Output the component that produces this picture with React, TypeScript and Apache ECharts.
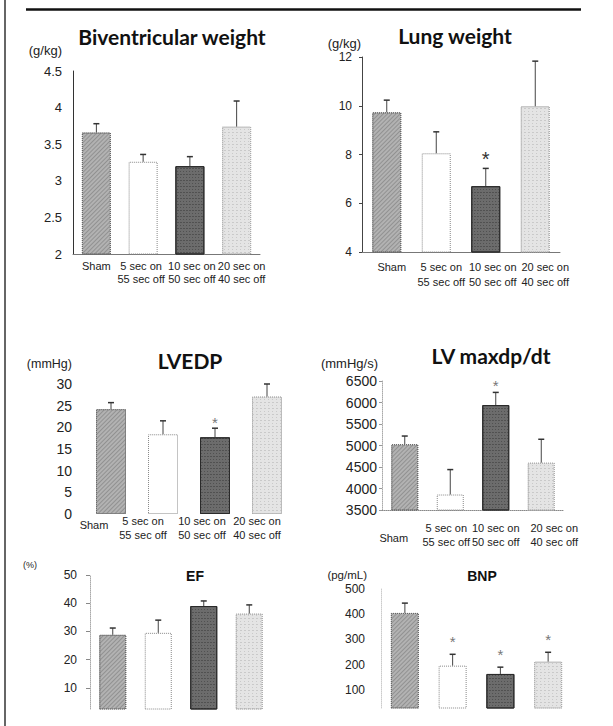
import React, { useEffect, useRef } from "react";
import * as echarts from "echarts";

// ---------- data ----------
const categories = ["Sham", "5 sec on\n55 sec off", "10 sec on\n50 sec off", "20 sec on\n40 sec off"];

const bivMean = [3.66, 3.26, 3.2, 3.74];
const bivSE = [0.12, 0.1, 0.13, 0.35];
const bivSig = [0, 0, 0, 0];

const lungMean = [9.73, 8.05, 6.7, 9.98];
const lungSE = [0.5, 0.88, 0.73, 1.85];
const lungSig = [0, 0, 1, 0];

const lvedpMean = [24.2, 18.4, 17.7, 27.1];
const lvedpSE = [1.5, 3.1, 2.1, 2.9];
const lvedpSig = [0, 0, 1, 0];

const maxdpMean = [5030, 3860, 5940, 4600];
const maxdpSE = [190, 580, 295, 545];
const maxdpSig = [0, 0, 1, 0];

const efMean = [28.8, 29.5, 39, 36.3];
const efSE = [2.4, 4.5, 1.8, 3.1];
const efSig = [0, 0, 0, 0];

const bnpMean = [405, 196, 163, 212];
const bnpSE = [39, 45, 27, 37];
const bnpSig = [0, 1, 1, 1];

const efTicks = [10, 20, 30, 40, 50];
const bnpTicks = [100, 200, 300, 400, 500];

// ---------- styles / layout ----------
const FONT = "'Liberation Sans', Arial, sans-serif";
const TITLE_FONT = "Lato";

const barStyles = [
  {
    color: "#b2b2b2",
    borderColor: "#666",
    borderWidth: 1,
    borderType: "dotted",
    decal: {
      symbol: "rect",
      dashArrayX: [1, 0],
      dashArrayY: [1, 2],
      rotation: -Math.PI / 4,
      color: "rgba(70,70,70,0.3)",
    },
  },
  { color: "#ffffff", borderColor: "#888", borderWidth: 1, borderType: "dotted" },
  {
    color: "#6c6c6c",
    borderColor: "#2a2a2a",
    borderWidth: 1,
    decal: {
      symbol: "rect",
      symbolSize: 1,
      dashArrayX: [[1, 2], [2, 1]],
      dashArrayY: [1, 2],
      color: "rgba(20,20,20,0.3)",
    },
  },
  {
    color: "#e4e4e4",
    borderColor: "#aaa",
    borderWidth: 1,
    borderType: "dotted",
    decal: {
      symbol: "rect",
      symbolSize: 1,
      dashArrayX: [[1, 3], [2, 2]],
      dashArrayY: [1, 2],
      color: "rgba(150,150,150,0.35)",
    },
  },
];

type Panel = {
  title: string;
  unit: string;
  mean: number[];
  se: number[];
  sig: number[];
  grid: { left: number; top: number; width: number; height: number };
  barWidth: number;
  y: any;
  yLabelSize: number;
  yLabelMargin: number;
  unitGap: number;
  unitPad: number;
  unitSize: number;
  yLine: any;
  yTick: any;
  xLine: any;
  xLabel: any;
  labelShift: number[];
  labelDrop: number;
  titleX: number;
  titleY: number;
  titleFont: string;
  titleSize: number;
  starSize: number;
  starColor: string;
  starGap: number;
};

const panels: Panel[] = [
  {
    title: "Biventricular weight",
    unit: "(g/kg)",
    mean: bivMean,
    se: bivSE,
    sig: bivSig,
    grid: { left: 73, top: 71, width: 187, height: 183 },
    barWidth: 29,
    y: { min: 2, max: 4.5, interval: 0.5 },
    yLabelSize: 13,
    yLabelMargin: 11,
    unitGap: 21,
    unitPad: 11,
    unitSize: 13,
    yLine: { show: true, lineStyle: { color: "#333", width: 1 } },
    yTick: { show: false },
    xLine: { show: true, lineStyle: { color: "#777", width: 1 } },
    xLabel: { show: true, margin: 5, lineHeight: 13 },
    labelShift: [0, -2, 2, 5],
    labelDrop: 0,
    titleX: 172,
    titleY: 39,
    titleFont: TITLE_FONT,
    titleSize: 21,
    starSize: 18,
    starColor: "#333",
    starGap: 12,
  },
  {
    title: "Lung weight",
    unit: "(g/kg)",
    mean: lungMean,
    se: lungSE,
    sig: lungSig,
    grid: { left: 362, top: 57, width: 198, height: 195 },
    barWidth: 29,
    y: { min: 4, max: 12, interval: 2 },
    yLabelSize: 12,
    yLabelMargin: 10,
    unitGap: 14,
    unitPad: 1,
    unitSize: 13,
    yLine: { show: true, lineStyle: { color: "#444", width: 1 } },
    yTick: { show: true, length: 3, lineStyle: { color: "#444" } },
    xLine: { show: true, lineStyle: { color: "#777", width: 1 } },
    xLabel: { show: true, margin: 7, lineHeight: 15 },
    labelShift: [5, 5, 7, 10],
    labelDrop: 0,
    titleX: 455,
    titleY: 38,
    titleFont: TITLE_FONT,
    titleSize: 21,
    starSize: 20,
    starColor: "#333",
    starGap: 14,
  },
  {
    title: "LVEDP",
    unit: "(mmHg)",
    mean: lvedpMean,
    se: lvedpSE,
    sig: lvedpSig,
    grid: { left: 85, top: 384, width: 208, height: 130 },
    barWidth: 30,
    y: { min: 0, max: 30, interval: 5 },
    yLabelSize: 14,
    yLabelMargin: 13,
    unitGap: 20,
    unitPad: 13,
    unitSize: 12.5,
    yLine: { show: false },
    yTick: { show: false },
    xLine: { show: false },
    xLabel: { show: true, margin: 0, lineHeight: 14 },
    labelShift: [-17, -20, -13, -10],
    labelDrop: 4,
    titleX: 190,
    titleY: 363,
    titleFont: TITLE_FONT,
    titleSize: 21,
    starSize: 15,
    starColor: "#777",
    starGap: 9,
  },
  {
    title: "LV maxdp/dt",
    unit: "(mmHg/s)",
    mean: maxdpMean,
    se: maxdpSE,
    sig: maxdpSig,
    grid: { left: 382, top: 381, width: 182, height: 129 },
    barWidth: 27,
    y: { min: 3500, max: 6500, interval: 500 },
    yLabelSize: 14,
    yLabelMargin: 5,
    unitGap: 18,
    unitPad: 4,
    unitSize: 13,
    yLine: { show: true, lineStyle: { color: "#aaa", width: 1, type: "dotted" } },
    yTick: { show: true, length: 3, lineStyle: { color: "#999" } },
    xLine: { show: true, lineStyle: { color: "#888", width: 1, type: "dotted" } },
    xLabel: { show: true, margin: 11, lineHeight: 14 },
    labelShift: [-11, -4, 0, 13],
    labelDrop: 10,
    titleX: 491,
    titleY: 358,
    titleFont: TITLE_FONT,
    titleSize: 21,
    starSize: 15,
    starColor: "#777",
    starGap: 10,
  },
  {
    title: "EF",
    unit: "(%)",
    mean: efMean,
    se: efSE,
    sig: efSig,
    grid: { left: 90, top: 575, width: 182, height: 134 },
    barWidth: 27,
    y: { min: 2.5, max: 50, ticks: efTicks },
    yLabelSize: 12,
    yLabelMargin: 13,
    unitGap: 10,
    unitPad: 53,
    unitSize: 9,
    yLine: { show: true, lineStyle: { color: "#aaa", width: 1, type: "dotted" } },
    yTick: { show: true, length: 4, lineStyle: { color: "#888" } },
    xLine: { show: false },
    xLabel: { show: false },
    labelShift: [0, 0, 0, 0],
    labelDrop: 0,
    titleX: 195,
    titleY: 578,
    titleFont: FONT,
    titleSize: 14,
    starSize: 15,
    starColor: "#777",
    starGap: 12,
  },
  {
    title: "BNP",
    unit: "(pg/mL)",
    mean: bnpMean,
    se: bnpSE,
    sig: bnpSig,
    grid: { left: 381, top: 589, width: 191, height: 119 },
    barWidth: 28,
    y: { min: 28, max: 500, ticks: bnpTicks },
    yLabelSize: 12,
    yLabelMargin: 16,
    unitGap: 14,
    unitPad: 14,
    unitSize: 11.5,
    yLine: { show: true, lineStyle: { color: "#ccc", width: 1, type: "dotted" } },
    yTick: { show: false },
    xLine: { show: false },
    xLabel: { show: false },
    labelShift: [0, 0, 0, 0],
    labelDrop: 0,
    titleX: 482,
    titleY: 578,
    titleFont: FONT,
    titleSize: 14,
    starSize: 15,
    starColor: "#777",
    starGap: 16,
  },
];

function buildOption() {
  const grid: any[] = [];
  const xAxis: any[] = [];
  const yAxis: any[] = [];
  const series: any[] = [];
  const title: any[] = [];

  panels.forEach((p, k) => {
    grid.push({ ...p.grid, containLabel: false });

    xAxis.push({
      type: "category",
      gridIndex: k,
      data: categories.map((c, i) => {
        const s = p.labelShift[i];
        const drop = i === 0 ? p.labelDrop : 0;
        return {
          value: c,
          textStyle: {
            padding: [drop, s < 0 ? -2 * s : 0, 0, s > 0 ? 2 * s : 0],
          },
        };
      }),
      axisLine: p.xLine,
      axisTick: { show: false },
      axisLabel: {
        show: p.xLabel.show,
        interval: 0,
        margin: p.xLabel.margin || 0,
        lineHeight: p.xLabel.lineHeight,
        fontFamily: FONT,
        fontSize: 11,
        color: "#222",
        hideOverlap: false,
      },
      splitLine: { show: false },
    });

    const yBase: any = {
      type: "value",
      gridIndex: k,
      min: p.y.min,
      max: p.y.max,
      name: p.unit,
      nameLocation: "end",
      nameGap: p.unitGap,
      nameTextStyle: {
        fontFamily: FONT,
        fontSize: p.unitSize,
        color: "#222",
        align: "right",
        verticalAlign: "middle",
        padding: [0, p.unitPad, 0, 0],
      },
      axisLine: p.yLine,
      axisTick: p.y.ticks
        ? { ...p.yTick, customValues: p.y.ticks }
        : p.yTick,
      axisLabel: {
        fontFamily: FONT,
        fontSize: p.yLabelSize,
        color: "#222",
        margin: p.yLabelMargin,
        formatter: (v: number) => String(v),
        ...(p.y.ticks ? { customValues: p.y.ticks } : {}),
      },
      splitLine: { show: false },
    };
    if (p.y.interval) yBase.interval = p.y.interval;
    yAxis.push(yBase);

    series.push({
      type: "bar",
      xAxisIndex: k,
      yAxisIndex: k,
      barWidth: p.barWidth,
      z: 2,
      data: p.mean.map((v, i) => ({ value: v, itemStyle: barStyles[i] })),
    });

    const starSize = p.starSize;
    const starColor = p.starColor;
    const starGap = p.starGap;
    series.push({
      type: "custom",
      xAxisIndex: k,
      yAxisIndex: k,
      z: 3,
      encode: { x: 0, y: 1 },
      data: p.mean.map((v, i) => [i, v, p.se[i], p.sig[i]]),
      renderItem: (params: any, api: any) => {
        const i = api.value(0);
        const m = api.value(1);
        const e = api.value(2);
        const sig = api.value(3);
        const b = api.coord([i, m]);
        const t = api.coord([i, m + e]);
        const children: any[] = [
          {
            type: "line",
            shape: { x1: b[0], y1: b[1], x2: t[0], y2: t[1] },
            style: { stroke: "#444", lineWidth: 1 },
          },
          {
            type: "line",
            shape: { x1: t[0] - 3, y1: t[1], x2: t[0] + 3, y2: t[1] },
            style: { stroke: "#333", lineWidth: 1.5 },
          },
        ];
        if (sig) {
          children.push({
            type: "text",
            x: t[0],
            y: t[1] - starGap + starSize * 0.22,
            style: {
              text: "*",
              fontFamily: FONT,
              fontSize: starSize,
              fill: starColor,
              align: "center",
              verticalAlign: "middle",
            },
          });
        }
        return { type: "group", children };
      },
    });

    title.push({
      text: p.title,
      left: p.titleX,
      top: p.titleY - p.titleSize * 0.62,
      textAlign: "center",
      padding: 0,
      textStyle: {
        fontFamily: p.titleFont,
        fontWeight: "bold",
        fontSize: p.titleSize,
        color: "#111",
      },
    });
  });

  return {
    animation: false,
    backgroundColor: "#ffffff",
    title,
    grid,
    xAxis,
    yAxis,
    series,
    graphic: [
      {
        type: "line",
        shape: { x1: 5, y1: 0, x2: 5, y2: 726 },
        style: { stroke: "#333", lineWidth: 1.5 },
      },
      {
        type: "line",
        shape: { x1: 26, y1: 9.5, x2: 581, y2: 9.5 },
        style: { stroke: "#111", lineWidth: 2.5 },
      },
    ],
  };
}

export default function App() {
  const ref = useRef<HTMLDivElement>(null);
  useEffect(() => {
    if (!ref.current) return;
    const chart = echarts.init(ref.current, null, { renderer: "svg" });
    chart.setOption(buildOption() as any);
    return () => chart.dispose();
  }, []);
  return (
    <div
      ref={ref}
      style={{ position: "fixed", left: 0, top: 0, width: 613, height: 726, background: "#fff" }}
    />
  );
}
